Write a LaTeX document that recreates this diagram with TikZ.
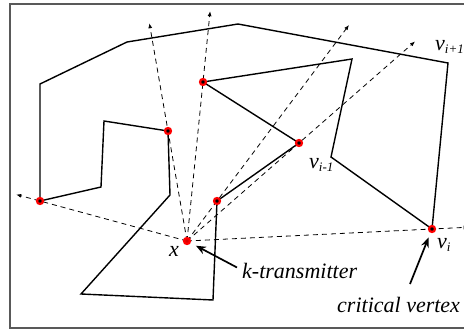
\documentclass[tikz,border=0pt]{standalone}
\usepackage{fontspec}
\setmainfont{Liberation Serif}
\newfontfamily\labelfont{Liberation Serif Italic}
\usetikzlibrary{calc,arrows.meta}

\tikzset{
    wall/.style={black, line width=1.4pt, line join=miter},
    ray/.style={black, line width=0.8pt, dash pattern=on 5pt off 4pt, -{Latex[length=5pt,width=4pt]}},
    guard/.style={circle, fill=black, draw=red, line width=2.2pt, inner sep=0pt, minimum size=6pt},
    pointer/.style={black, line width=1.7pt, -{Stealth[length=10pt,width=8pt]}},
    lbl/.style={font=\fontsize{22}{25}\labelfont, inner sep=0pt},
}
\newcommand{\idx}[1]{{\fontsize{13}{15}\labelfont\raisebox{-3pt}{#1}}}

\begin{document}
\begin{tikzpicture}[x=1pt, y=-1pt]
    % Frame
    \useasboundingbox (0,0) rectangle (464,332);
    \clip (0,0) rectangle (464,332);
    \draw[gray!70!black, line width=1.2pt] (10,4) rectangle (466,328);

    % Polygon corners
    \coordinate (p1) at (40,84);
    \coordinate (p2) at (127,42);
    \coordinate (p3) at (238,24);
    \coordinate (vnext) at (448,63);
    \coordinate (vi) at (432,229);
    \coordinate (vprev) at (331,157);
    \coordinate (p7) at (352,59);
    \coordinate (a) at (203,82);
    \coordinate (b) at (299,143);
    \coordinate (c) at (217,201);
    \coordinate (p11) at (213,300);
    \coordinate (p12) at (81,294);
    \coordinate (p13) at (170,195);
    \coordinate (d) at (168,131);
    \coordinate (p15) at (104,121);
    \coordinate (p16) at (101,187);
    \coordinate (e) at (40,201);
    \coordinate (x) at (187,241);

    \draw[wall] (p1) -- (p2) -- (p3) -- (vnext) -- (vi) -- (vprev) -- (p7) -- (a) -- (b)
        -- (c) -- (p11) -- (p12) -- (p13) -- (d) -- (p15) -- (p16) -- (e) -- cycle;

    % Visibility rays
    \foreach \v/\len in {e/177, d/221, a/231, c/270, b/303, vi/282} {
        \draw[ray] (x) -- ($(x)!\len pt!(\v)$);
    }

    % Reflex vertices and transmitter
    \foreach \v in {a, b, c, d, e, vi} {
        \node[guard] (g\v) at (\v) {};
    }
    \node[guard, fill=red!85!black, draw=red] (gx) at (x) {};

    % Labels
    \node[lbl] (lx) at (174,251) {x};
    \node[lbl, anchor=base west] (lnext) at (435,50) {v\idx{i+1}};
    \node[lbl, anchor=base west] (lprev) at (309,168) {v\idx{i-1}};
    \node[lbl, anchor=base west] (li) at (437,248) {v\idx{i}};
    \node[lbl, anchor=base west] (ktx) at (242,278) {k-transmitter};
    \node[lbl, anchor=base west] (crit) at (337,312) {critical vertex};

    % Pointers
    \coordinate (kstart) at ($(ktx.west)+(-5,-3)$);
    \coordinate (cstart) at (410,284);
    \draw[pointer, shorten >=6pt] (kstart) -- (gx);
    \draw[pointer, shorten >=5pt] (cstart) -- (gvi);
\end{tikzpicture}
\end{document}
